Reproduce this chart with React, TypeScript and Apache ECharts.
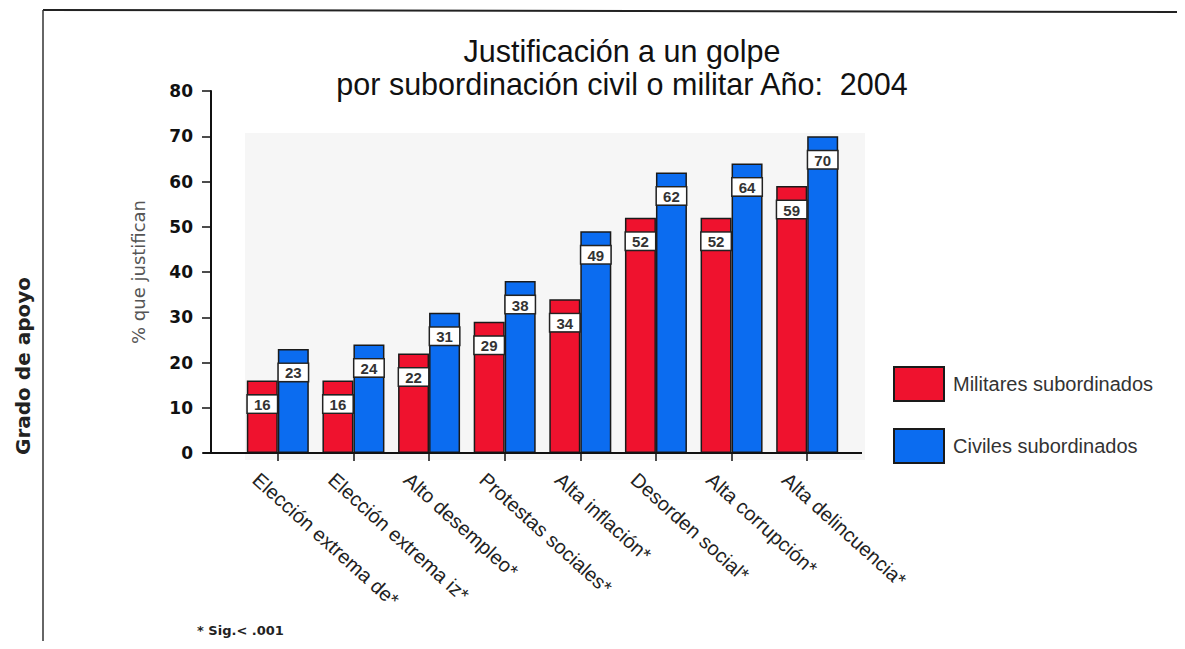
import React, { useEffect, useRef } from "react";
import * as echarts from "echarts";

const categories = [
  "Elección extrema de*",
  "Elección extrema iz*",
  "Alto desempleo*",
  "Protestas sociales*",
  "Alta inflación*",
  "Desorden social*",
  "Alta corrupción*",
  "Alta delincuencia*",
];
const militares = [16, 16, 22, 29, 34, 52, 52, 59];
const civiles = [23, 24, 31, 38, 49, 62, 64, 70];
const seriesNames = ["Militares subordinados", "Civiles subordinados"];
const titleText = "Justificación a un golpe\npor subordinación civil o militar Año:  2004";
const yName = "% que justifican";
const outerName = "Grado de apoyo";
const footnote = "* Sig.< .001";

const FONT = "'Liberation Sans', Arial, sans-serif";
const DV = "'DejaVu Sans', sans-serif";
const RED = "#ef122e";
const BLUE = "#0b6cf0";

export default function App() {
  const ref = useRef<HTMLDivElement>(null);
  useEffect(() => {
    if (!ref.current) return;
    const chart = echarts.init(ref.current, undefined, { renderer: "svg" });
    const barLabel = {
      show: true,
      position: "insideTop",
      distance: 15,
      formatter: "{c}",
      backgroundColor: "#ffffff",
      borderColor: "#222222",
      borderWidth: 1.5,
      padding: [2, 0, 1, 0],
      lineHeight: 14,
      width: 29,
      align: "center",
      fontFamily: FONT,
      fontSize: 15,
      fontWeight: "bold",
      color: "#333333",
    };
    chart.setOption({
      animation: false,
      backgroundColor: "#ffffff",
      textStyle: { fontFamily: FONT },
      title: {
        text: titleText,
        left: 617,
        top: 29,
        textAlign: "center",
        textStyle: {
          fontFamily: FONT,
          fontSize: 30.5,
          fontWeight: "normal",
          lineHeight: 33,
          color: "#111111",
        },
      },
      legend: {
        orient: "vertical",
        left: 888,
        top: 361,
        itemWidth: 50,
        itemHeight: 34,
        itemGap: 26,
        icon: "rect",
        data: seriesNames,
        textStyle: {
          fontFamily: FONT,
          fontSize: 20,
          color: "#333333",
          padding: [0, 0, 0, 4],
        },
      },
      grid: { left: 240, right: 340, top: 91, bottom: 196, containLabel: false },
      xAxis: {
        type: "category",
        data: categories,
        axisLine: { show: false },
        axisTick: {
          show: true,
          alignWithLabel: true,
          length: 8,
          lineStyle: { color: "#111111", width: 1.5 },
        },
        axisLabel: {
          interval: 0,
          rotate: -42,
          margin: -1,
          align: "left",
          verticalAlign: "top",
          padding: [21, 0, 0, 0],
          lineHeight: 24,
          fontFamily: FONT,
          fontSize: 20,
          color: "#222222",
        },
      },
      yAxis: {
        type: "value",
        min: 0,
        max: 80,
        interval: 10,
        offset: 29,
        axisLine: { show: true, lineStyle: { color: "#111111", width: 2 } },
        axisTick: { show: true, length: 9, lineStyle: { color: "#111111", width: 1.5 } },
        axisLabel: {
          margin: 18,
          fontFamily: DV,
          fontSize: 17,
          fontWeight: "bold",
          color: "#111111",
        },
        splitLine: { show: false },
      },
      graphic: [
        {
          type: "rect",
          z: -10,
          shape: { x: 245, y: 133, width: 620, height: 327 },
          style: { fill: "#f6f6f6" },
          silent: true,
        },
        {
          type: "line",
          z: 10,
          shape: { x1: 203, y1: 453, x2: 862, y2: 453 },
          style: { stroke: "#111111", lineWidth: 2 },
        },
        {
          type: "line",
          shape: { x1: 43, y1: 10, x2: 1185, y2: 12 },
          style: { stroke: "#222222", lineWidth: 2 },
        },
        {
          type: "line",
          shape: { x1: 43, y1: 10, x2: 43, y2: 649 },
          style: { stroke: "#333333", lineWidth: 1.5 },
        },
        {
          type: "text",
          x: 23,
          y: 366,
          rotation: Math.PI / 2,
          style: {
            text: outerName,
            fontFamily: DV,
            fontSize: 20,
            fontWeight: "bold",
            fill: "#222222",
            textAlign: "center",
            textVerticalAlign: "middle",
          },
        },
        {
          type: "text",
          x: 138,
          y: 272,
          rotation: Math.PI / 2,
          style: {
            text: yName,
            fontFamily: DV,
            fontSize: 18,
            fill: "#555555",
            textAlign: "center",
            textVerticalAlign: "middle",
          },
        },
        {
          type: "text",
          x: 197,
          y: 630,
          style: {
            text: footnote,
            fontFamily: DV,
            fontSize: 13,
            fontWeight: "bold",
            fill: "#222222",
            textVerticalAlign: "middle",
          },
        },
      ],
      series: [
        {
          name: seriesNames[0],
          type: "bar",
          data: militares,
          barWidth: 31,
          barGap: "0%",
          itemStyle: { color: RED, borderColor: "#1a1a1a", borderWidth: 1.5 },
          label: barLabel,
        },
        {
          name: seriesNames[1],
          type: "bar",
          data: civiles,
          barWidth: 31,
          barGap: "0%",
          itemStyle: { color: BLUE, borderColor: "#1a1a1a", borderWidth: 1.5 },
          label: barLabel,
        },
      ],
    });
    return () => chart.dispose();
  }, []);
  return <div ref={ref} style={{ width: 1185, height: 649, margin: -8 }} />;
}
